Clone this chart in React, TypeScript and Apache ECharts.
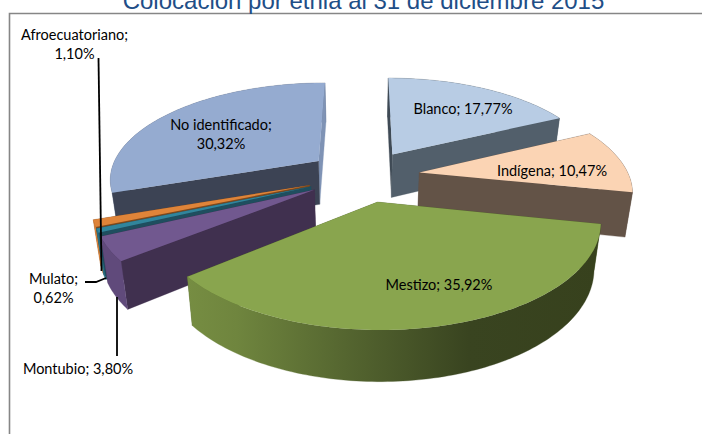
import React, { useEffect, useRef } from "react";
import * as echarts from "echarts";

const titleText = "Colocación por etnia al 31 de diciembre 2015";
const categories = ["Blanco", "Indígena", "Mestizo", "Montubio", "Mulato", "Afroecuatoriano", "No identificado"];
const percentages = [17.77, 10.47, 35.92, 3.8, 0.62, 1.1, 30.32];

const topColors = ["#B8CCE4", "#FBD4B4", "#89A54E", "#71588F", "#31859C", "#DF8439", "#95ABD0"];
const startWallColors = ["#3F4A55", "#635347", "#4F6228", "#40304F", "#1F4E5F", "#7F4A1E", "#3C4354"];
const endWallColors = ["#525F6B", "#635347", "#4F6228", "#40304F", "#1F4E5F", "#7F4A1E", "#7F93B5"];
const arcWallColors = ["#525F6B", "#635347", "#4F6228", "#604A7B", "#2B7488", "#DF8439", "#5C6B85"];

// painter's order: back to front
const paintOrder = [6, 0, 1, 5, 4, 3, 2];

// label placement, by category index
const labelLayout: { x: number; y: number; lines: boolean }[] = [
  { x: 463, y: 108, lines: false },
  { x: 552, y: 170, lines: false },
  { x: 439, y: 284, lines: false },
  { x: 78, y: 368, lines: false },
  { x: 53.5, y: 287.5, lines: true },
  { x: 74.5, y: 43.5, lines: true },
  { x: 221, y: 133.5, lines: true },
];
const leaders: number[][][] = [
  [[98.5, 58], [101.5, 271]],
  [[85, 282], [96, 282], [106, 278]],
  [[117, 297], [117, 356]],
];

// projection of the pie plane to the screen
const CX = 363.5, CY = 175.7, SX = 209.5, SY = 96, PERSP = 0.17, EXPLODE = 0.27;
const SHRINK = 0.972, DEPTH0 = 43, DEPTH_SLOPE = 0.05, VANISH_X = 360;

function project(px: number, py: number): number[] {
  const d = 1 + PERSP * py;
  return [CX + (SX * px) / d, CY - (SY * py) / d];
}
function lower(p: number[]): number[] {
  return [VANISH_X + (p[0] - VANISH_X) * SHRINK, p[1] + DEPTH0 + DEPTH_SLOPE * (p[1] - 157)];
}
const rad = (pct: number) => (pct / 100) * Math.PI * 2;

const cumulative = percentages.map((_, i) => percentages.slice(0, i).reduce((a, b) => a + b, 0));

function renderSlice(_params: any, api: any) {
  const i = api.value(0);
  const a0 = rad(cumulative[i]);
  const a1 = rad(cumulative[i] + percentages[i]);
  const mid = (a0 + a1) / 2;
  const ax = EXPLODE * Math.sin(mid);
  const ay = EXPLODE * Math.cos(mid);
  const steps = Math.max(2, Math.ceil((a1 - a0) / 0.02));
  const rimPlane: number[][] = [];
  for (let s = 0; s <= steps; s++) {
    const t = a0 + ((a1 - a0) * s) / steps;
    rimPlane.push([ax + Math.sin(t), ay + Math.cos(t)]);
  }
  const rim = rimPlane.map((p) => project(p[0], p[1]));
  const apex = project(ax, ay);
  const lowApex = lower(apex);
  const lowRim = rim.map(lower);
  const first = rim[0];
  const last = rim[rim.length - 1];

  const faces: { depth: number; points: number[][]; fill: any }[] = [
    {
      depth: (ay + rimPlane[0][1]) / 2,
      points: [apex, first, lowRim[0], lowApex],
      fill: startWallColors[i],
    },
    {
      depth: (ay + rimPlane[rimPlane.length - 1][1]) / 2,
      points: [apex, last, lowRim[lowRim.length - 1], lowApex],
      fill: endWallColors[i],
    },
    {
      depth: ay + Math.cos(mid),
      points: [...rim, ...lowRim.slice().reverse()],
      fill:
        i === 2
          ? new echarts.graphic.LinearGradient(0, 0, 1, 0, [
              { offset: 0, color: "#768D42" },
              { offset: 0.12, color: "#6F853E" },
              { offset: 0.38, color: "#556630" },
              { offset: 0.68, color: "#394420" },
              { offset: 1, color: "#37411D" },
            ])
          : arcWallColors[i],
    },
  ];
  faces.sort((a, b) => b.depth - a.depth);
  const children: any[] = faces.map((f) => ({
    type: "polygon",
    shape: { points: f.points },
    style: { fill: f.fill, stroke: f.fill, lineWidth: 0.3 },
  }));
  children.push({
    type: "polygon",
    shape: { points: [apex, ...rim] },
    style: { fill: topColors[i] },
  });
  return { type: "group", children };
}

function formatLabel(i: number): string {
  const pct = percentages[i].toFixed(2).replace(".", ",") + "%";
  return labelLayout[i].lines ? `${categories[i]};\n${pct}` : `${categories[i]}; ${pct}`;
}

function renderLabel(_params: any, api: any) {
  const i = api.value(0);
  return {
    type: "text",
    style: {
      text: formatLabel(i),
      x: labelLayout[i].x,
      y: labelLayout[i].y,
      align: "center",
      verticalAlign: "middle",
      fill: "#000000",
      font: "14.5px Lato",
      lineHeight: 19,
    },
  };
}

export default function App() {
  const ref = useRef<HTMLDivElement>(null);
  useEffect(() => {
    document.body.style.margin = "0";
    const chart = echarts.init(ref.current!, undefined, { renderer: "svg" });
    chart.setOption({
      animation: false,
      backgroundColor: "#FFFFFF",
      graphic: [
        {
          type: "polyline",
          z: 0,
          shape: { points: [[9.5, 440], [9.5, 13.5], [710, 13.5]] },
          style: { stroke: "#868686", lineWidth: 1.6, fill: "none" },
        },
        {
          type: "text",
          z: 1,
          style: {
            text: titleText,
            x: 363.5,
            y: 12,
            align: "center",
            verticalAlign: "bottom",
            fill: "#1F4E87",
            font: "24px 'Liberation Sans'",
          },
        },
        ...leaders.map((points) => ({
          type: "polyline",
          z: 20,
          shape: { points },
          style: { stroke: "#000000", lineWidth: 1.8, fill: "none" },
        })),
      ],
      series: [
        {
          type: "custom",
          coordinateSystem: "none",
          z: 5,
          silent: true,
          data: paintOrder.map((i) => [i]),
          encode: { value: 0 },
          renderItem: renderSlice,
        },
        {
          type: "custom",
          coordinateSystem: "none",
          z: 30,
          silent: true,
          data: categories.map((_, i) => [i]),
          encode: { value: 0 },
          renderItem: renderLabel,
        },
      ],
    });
    return () => chart.dispose();
  }, []);
  return <div ref={ref} style={{ width: 702, height: 434 }} />;
}
